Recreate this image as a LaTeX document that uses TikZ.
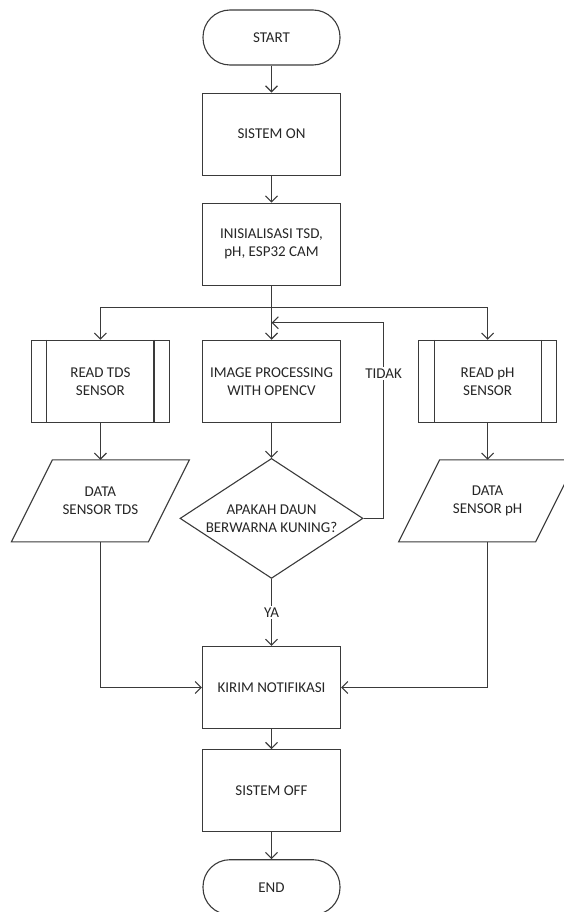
\documentclass[tikz,border=0pt]{standalone}
\usepackage{fontspec}
\setmainfont{Carlito}
\usepackage{xcolor}
\usepackage{tikz}
\usetikzlibrary{shapes.geometric, arrows.meta, positioning}
\definecolor{LineGray}{HTML}{3A3A3A}
\definecolor{TextGray}{HTML}{262626}

\begin{document}
\begin{tikzpicture}[
  x=1pt, y=-1pt,
  font=\fontsize{15}{18}\selectfont,
  terminal/.style={rectangle, rounded corners=27pt, draw=LineGray,
    line width=1.1pt, minimum width=137pt, minimum height=55pt, text=TextGray},
  process/.style={rectangle, draw=LineGray, line width=1.1pt,
    minimum width=138pt, minimum height=82pt, align=center, text=TextGray},
  iodata/.style={rectangle, outer sep=0pt, minimum width=137pt,
    minimum height=82pt, align=center, text=TextGray,
    append after command={\pgfextra{\draw[LineGray, line width=1.1pt]
      ([xshift=20.5pt]\tikzlastnode.north west) -- ([xshift=20.5pt]\tikzlastnode.north east)
      -- ([xshift=-20.5pt]\tikzlastnode.south east) -- ([xshift=-20.5pt]\tikzlastnode.south west)
      -- cycle;}}},
  decision/.style={diamond, aspect=1.525, inner sep=-3pt, draw=LineGray,
    line width=1.1pt, minimum width=183pt, minimum height=120pt,
    align=center, text=TextGray},
  arr/.style={-{Straight Barb[length=6pt, width=12pt]}, line width=1.1pt, LineGray},
  lbl/.style={fill=white, inner sep=1.5pt, text=TextGray},
  node distance=27pt
]
\useasboundingbox (0,0) rectangle (563,912);

% main column
\node[terminal] (start) at (271.5,37.5) {START};
\node[process, below=of start] (sysOn) {SISTEM ON};
\node[process, below=of sysOn] (init) {INISIALISASI TSD,\\pH, ESP32 CAM};
\node[process, below=54pt of init] (imgProc) {IMAGE PROCESSING\\WITH OPENCV};
\node[decision, below=35pt of imgProc] (decide) {APAKAH DAUN\\BERWARNA KUNING?};
\node[process, below=67pt of decide] (kirim) {KIRIM NOTIFIKASI};
\node[process, below=20pt of kirim] (sysOff) {SISTEM OFF};
\node[terminal, below=of sysOff] (finish) {END};

% side columns
\node[process, left=32pt of imgProc] (readTds) {READ TDS\\SENSOR};
\node[process, right=77pt of imgProc] (readPh) {READ pH\\SENSOR};
\node[iodata, below=37pt of readTds] (dataTds) {DATA\\SENSOR TDS};
\node[iodata, below=37pt of readPh] (dataPh) {DATA\\SENSOR pH};

\foreach \n in {readTds, readPh} {
  \draw[LineGray, line width=1.1pt] ([xshift=16pt]\n.north west) -- ([xshift=16pt]\n.south west);
  \draw[LineGray, line width=1.1pt] ([xshift=-16pt]\n.north east) -- ([xshift=-16pt]\n.south east);
}

% connectors
\draw[arr] (start) -- (sysOn);
\draw[arr] (sysOn) -- (init);
\draw[LineGray, line width=1.1pt] (init.south) -- ++(0,22) coordinate (split);
\draw[arr] (split) -- (imgProc);
\draw[arr] (split) -| (readTds);
\draw[arr] (split) -| (readPh);
\draw[arr] (imgProc) -- (decide);
\draw[arr] (readTds) -- (dataTds);
\draw[arr] (readPh) -- (dataPh);

\coordinate (loopIn) at ([yshift=17pt]imgProc.north);
\draw[arr] (decide.east) -- ++(20,0) |- node[lbl, pos=0.37] (tidak) {TIDAK} (loopIn);
\draw[arr] (decide) -- node[lbl] (ya) {YA} (kirim);

\draw[arr] (dataTds.south) |- (kirim.west);
\draw[arr] (dataPh.south) |- (kirim.east);
\draw[arr] (kirim) -- (sysOff);
\draw[arr] (sysOff) -- (finish);

\end{tikzpicture}
\end{document}
